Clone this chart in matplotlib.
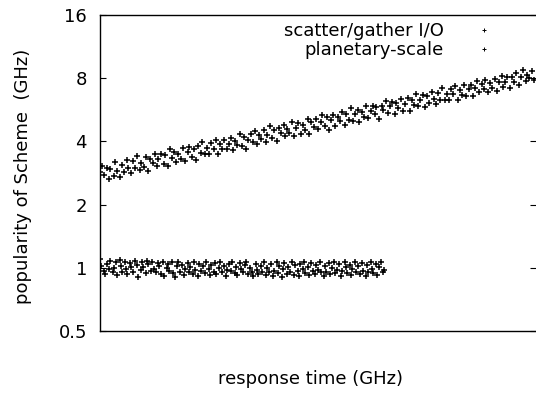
import matplotlib
import matplotlib.pyplot as plt

matplotlib.use('Agg')

# upper band: rises steadily across the whole x range (log2 y axis)
upper_x = [
    0.1, 0.5, 1.0, 1.6, 2.0, 2.4, 3.1, 3.5, 4.0, 4.6,
    5.0, 5.5, 6.1, 6.5, 7.0, 7.6, 8.0, 8.4, 9.1, 9.5,
    10.0, 10.6, 11.0, 11.5, 12.1, 12.5, 13.0, 13.4, 14.0, 14.6,
    15.0, 15.5, 16.1, 16.5, 17.0, 17.4, 18.0, 18.6, 19.0, 19.5,
    20.1, 20.5, 21.0, 21.6, 22.0, 22.4, 23.1, 23.5, 24.0, 24.6,
    25.0, 25.5, 26.1, 26.5, 27.0, 27.6, 28.0, 28.4, 29.1, 29.5,
    30.0, 30.6, 31.0, 31.5, 32.1, 32.5, 33.0, 33.4, 34.0, 34.6,
    35.0, 35.5, 36.1, 36.5, 37.0, 37.6, 38.0, 38.4, 39.1, 39.5,
    40.0, 40.6, 41.0, 41.5, 42.1, 42.5, 43.0, 43.4, 44.0, 44.6,
    45.0, 45.5, 46.1, 46.5, 47.0, 47.6, 48.0, 48.4, 49.1, 49.5,
    50.0, 50.6, 51.0, 51.5, 52.1, 52.5, 53.0, 53.4, 54.0, 54.6,
    55.0, 55.5, 56.1, 56.5, 57.0, 57.6, 58.0, 58.4, 59.1, 59.5,
    60.0, 60.6, 61.0, 61.5, 62.1, 62.5, 63.0, 63.4, 64.0, 64.6,
    65.0, 65.5, 66.1, 66.5, 67.0, 67.6, 68.0, 68.4, 69.1, 69.5,
    70.0, 70.6, 71.0, 71.5, 72.1, 72.5, 73.0, 73.4, 74.0, 74.6,
    75.0, 75.5, 76.1, 76.5, 77.0, 77.6, 78.0, 78.4, 79.1, 79.5,
    80.0, 80.6, 81.0, 81.5, 82.1, 82.5, 83.0, 83.4, 84.0, 84.6,
    85.0, 85.5, 86.1, 86.5, 87.0, 87.6, 88.0, 88.4, 89.1, 89.5,
    90.0, 90.6, 91.0, 91.5, 92.1, 92.5, 93.0, 93.4, 94.0, 94.6,
    95.0, 95.5, 96.1, 96.5, 97.0, 97.6, 98.0, 98.4, 99.1, 99.5,
]
upper_y = [
    2.86, 3.05, 2.77, 3.00, 2.66, 2.96, 2.74, 3.19, 2.89, 2.70,
    3.08, 2.85, 3.26, 3.00, 2.83, 3.21, 2.98, 3.39, 2.91, 3.17,
    3.02, 3.36, 2.89, 3.30, 3.15, 3.48, 3.05, 3.28, 3.50, 3.13,
    3.45, 3.07, 3.66, 3.34, 3.56, 3.20, 3.49, 3.30, 3.73, 3.23,
    3.55, 3.77, 3.36, 3.67, 3.25, 3.81, 3.54, 3.98, 3.49, 3.73,
    3.48, 3.91, 3.70, 4.05, 3.47, 3.90, 3.70, 4.05, 3.66, 3.90,
    4.17, 3.65, 4.02, 3.84, 4.34, 3.80, 4.18, 3.67, 4.06, 4.32,
    3.96, 4.47, 3.87, 4.31, 4.12, 4.53, 3.99, 4.30, 4.72, 4.14,
    4.52, 4.03, 4.65, 4.38, 4.80, 4.24, 4.57, 4.37, 4.94, 4.24,
    4.64, 4.89, 4.36, 4.80, 4.54, 5.09, 4.35, 4.94, 4.69, 5.10,
    4.60, 4.97, 5.33, 4.72, 5.20, 4.52, 5.05, 5.37, 4.75, 5.23,
    5.01, 5.55, 4.81, 5.40, 5.06, 5.78, 5.01, 5.41, 5.65, 4.93,
    5.55, 5.20, 5.89, 5.15, 5.57, 5.92, 5.39, 5.81, 5.11, 5.93,
    5.63, 6.23, 5.46, 5.90, 6.16, 5.43, 6.10, 5.77, 6.40, 5.60,
    6.06, 6.46, 5.58, 6.27, 5.95, 6.71, 5.88, 6.33, 6.63, 5.85,
    6.58, 6.11, 6.91, 6.37, 6.01, 6.83, 6.32, 7.21, 6.27, 6.75,
    6.28, 7.12, 6.75, 7.32, 6.27, 7.06, 6.67, 7.39, 6.60, 7.13,
    7.40, 6.59, 7.20, 7.80, 6.91, 7.53, 7.12, 7.81, 6.91, 7.61,
    7.22, 7.94, 6.92, 7.71, 8.21, 7.25, 7.67, 8.09, 7.21, 8.10,
    7.69, 8.44, 7.46, 8.13, 8.73, 7.74, 8.33, 8.04, 8.67, 7.81,
]

# lower band: flat around 1 GHz, stops about two thirds of the way across
lower_x = [
    0.0, 0.3, 0.9, 1.2, 1.5, 2.1, 2.3, 2.9, 3.2, 3.7,
    3.9, 4.5, 4.8, 5.1, 5.7, 6.0, 6.3, 6.9, 7.2, 7.5,
    8.1, 8.4, 8.7, 9.3, 9.6, 9.9, 10.5, 10.8, 11.1, 11.7,
    12.0, 12.3, 12.9, 13.2, 13.5, 14.1, 14.4, 14.7, 15.3, 15.6,
    15.9, 16.5, 16.8, 17.1, 17.7, 18.0, 18.3, 18.9, 19.2, 19.5,
    20.1, 20.4, 20.7, 21.3, 21.6, 21.9, 22.5, 22.8, 23.1, 23.7,
    24.0, 24.3, 24.9, 25.2, 25.5, 26.1, 26.4, 26.7, 27.3, 27.6,
    27.9, 28.5, 28.8, 29.1, 29.7, 30.0, 30.3, 30.9, 31.2, 31.5,
    32.1, 32.4, 32.7, 33.3, 33.6, 33.9, 34.5, 34.8, 35.1, 35.7,
    36.0, 36.3, 36.9, 37.2, 37.5, 38.1, 38.4, 38.7, 39.3, 39.6,
    39.9, 40.5, 40.8, 41.1, 41.7, 42.0, 42.3, 42.9, 43.2, 43.5,
    44.1, 44.4, 44.7, 45.3, 45.6, 45.9, 46.5, 46.8, 47.1, 47.7,
    48.0, 48.3, 48.9, 49.2, 49.5, 50.1, 50.4, 50.7, 51.3, 51.6,
    51.9, 52.5, 52.8, 53.1, 53.7, 54.0, 54.3, 54.9, 55.2, 55.5,
    56.1, 56.4, 56.7, 57.3, 57.6, 57.9, 58.5, 58.8, 59.1, 59.7,
    60.0, 60.3, 60.9, 61.2, 61.5, 62.1, 62.4, 62.7, 63.3, 63.6,
    63.9, 64.5, 64.8, 65.2,
]
lower_y = [
    1.10, 1.02, 0.97, 0.93, 1.04, 0.99, 1.08, 0.95, 1.00, 1.06,
    0.92, 1.09, 1.02, 0.96, 1.07, 0.99, 0.93, 1.05, 1.01, 0.95,
    1.08, 1.03, 0.90, 0.98, 1.06, 1.01, 0.94, 1.08, 1.04, 0.97,
    1.07, 0.99, 0.95, 1.05, 1.02, 0.93, 1.06, 0.91, 1.00, 1.04,
    0.97, 1.07, 0.94, 0.90, 1.02, 1.06, 0.96, 1.03, 0.92, 0.99,
    1.05, 0.95, 1.01, 0.93, 1.06, 0.98, 0.91, 1.04, 0.97, 1.02,
    0.94, 1.07, 0.99, 0.92, 1.03, 0.96, 1.05, 0.93, 1.00, 1.06,
    0.95, 1.02, 0.91, 0.98, 1.04, 0.97, 1.07, 0.94, 1.01, 0.92,
    1.05, 0.99, 0.95, 1.03, 1.06, 0.93, 1.00, 0.96, 0.91, 1.04,
    0.98, 0.93, 1.02, 0.96, 1.06, 0.92, 1.00, 0.95, 1.04, 0.91,
    0.97, 1.07, 0.94, 1.02, 0.90, 0.99, 1.05, 0.93, 1.01, 0.96,
    1.06, 0.92, 1.03, 0.97, 0.91, 1.04, 0.99, 1.07, 0.94, 1.01,
    0.92, 1.05, 0.97, 0.93, 1.03, 0.98, 1.06, 0.95, 0.91, 1.02,
    0.96, 1.05, 0.93, 1.00, 1.07, 0.94, 0.98, 1.04, 0.91, 0.97,
    1.06, 1.01, 0.94, 1.03, 0.92, 0.99, 1.07, 0.95, 1.02, 0.93,
    1.05, 0.97, 0.91, 1.03, 0.96, 1.07, 0.99, 0.94, 1.04, 0.92,
    1.01, 1.06, 0.95, 0.98,
]

y_ticks = [0.5, 1, 2, 4, 8, 16]
y_tick_labels = ['0.5', '1', '2', '4', '8', '16']

# the original text is wide, DejaVu matches its widths best
plt.rcParams['font.family'] = ['DejaVu Sans']
plt.rcParams['font.size'] = 13

fig = plt.figure(figsize=(5.36, 3.94), dpi=100)
# the frame runs off the right edge of the picture, like the original
ax = fig.add_axes([100 / 536, 63 / 394, 436 / 536, 316 / 394])

ax.plot(upper_x, upper_y, '+', color='black', ms=5, mew=1.1,
        label='scatter/gather I/O')
ax.plot(lower_x, lower_y, '+', color='black', ms=5, mew=1.1,
        label='planetary-scale')

ax.set_yscale('log', base=2)
ax.set_ylim(0.5, 16)
ax.set_xlim(0, 100)
ax.set_yticks(y_ticks)
ax.set_yticklabels(y_tick_labels)
ax.minorticks_off()
ax.set_xticks([])

ax.spines['right'].set_visible(False)
for s in ['left', 'top', 'bottom']:
    ax.spines[s].set_linewidth(1.0)
ax.tick_params(axis='y', which='both', direction='in', length=4,
               width=0.8, right=True, pad=9.4, labelsize=13)

ax.set_ylabel('popularity of Scheme  (GHz)', fontsize=13)
ax.yaxis.set_label_coords(-0.156, 0.49)
ax.set_xlabel('response time (GHz)', fontsize=13)
ax.xaxis.set_label_coords(0.482, -0.123)

leg = ax.legend(loc='upper right', bbox_to_anchor=(0.922, 0.978),
                frameon=False, markerfirst=False, borderpad=0,
                borderaxespad=0, handlelength=2, handletextpad=1.22,
                labelspacing=0.05, fontsize=13)
for h in leg.legend_handles:
    h.set_markersize(3.5)
    h.set_markeredgewidth(0.7)

fig.savefig('out.png', dpi=100)
